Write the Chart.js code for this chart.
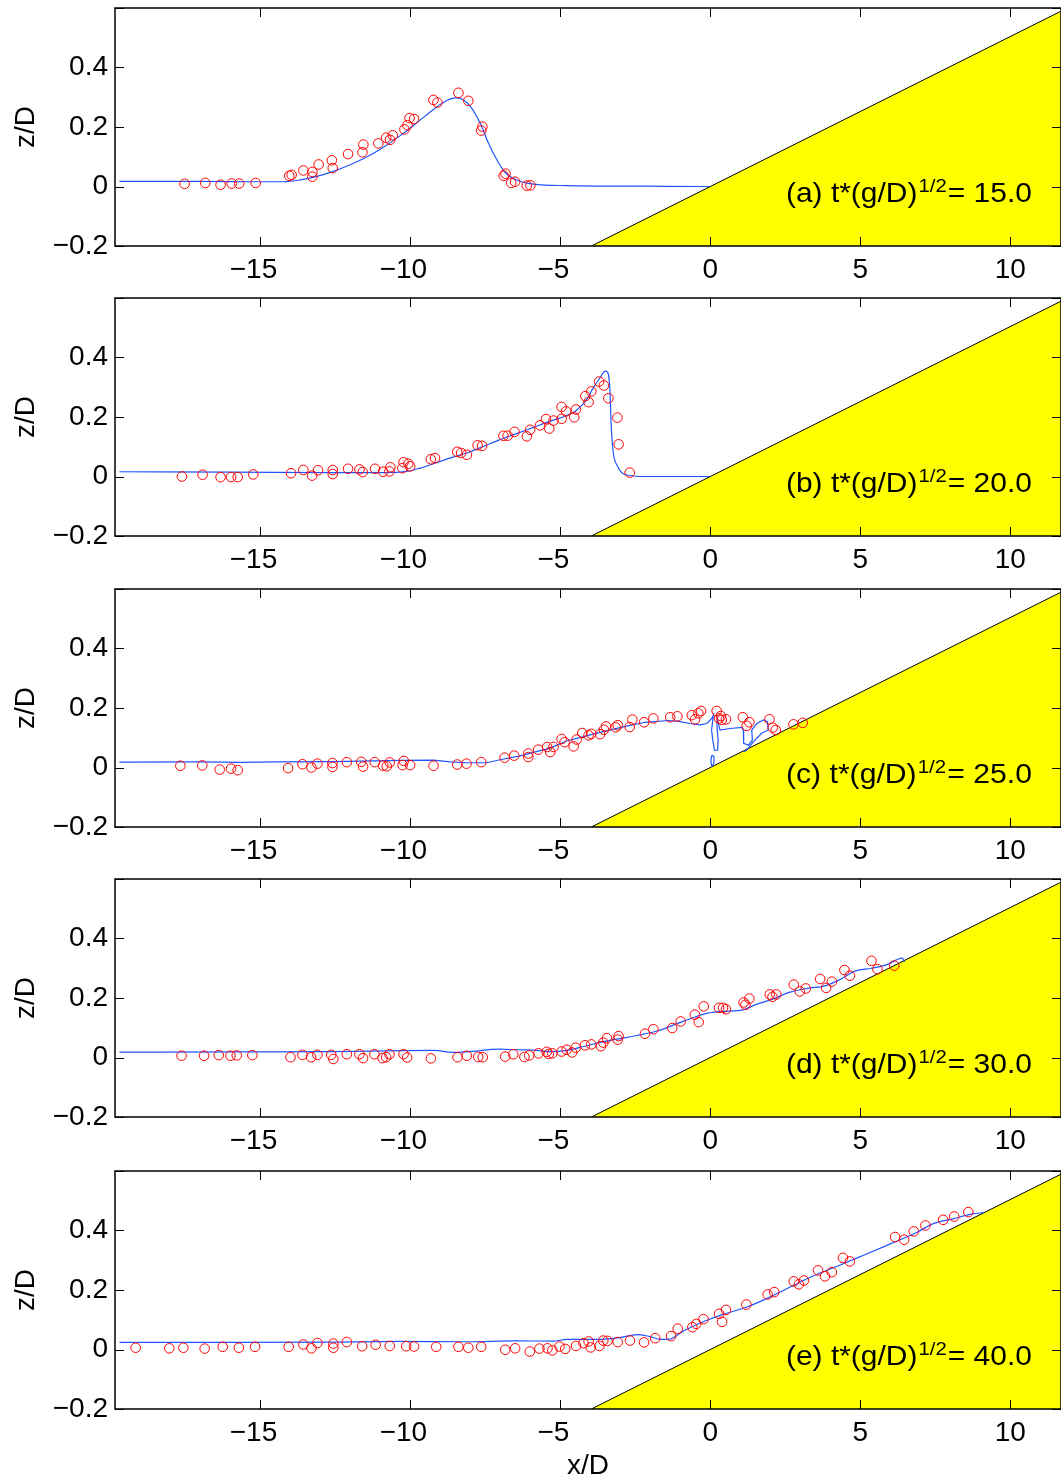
<!DOCTYPE html>
<html>
<head>
<meta charset="utf-8">
<title>Runup snapshots</title>
<script src="https://cdn.jsdelivr.net/npm/chart.js@4.4.1/dist/chart.umd.min.js"></script>
<style>
  html, body { margin: 0; padding: 0; background: #fff; }
  #wrap { position: relative; width: 1061px; height: 1477px; overflow: hidden; }
  #wrap canvas { position: absolute; left: 0; }
</style>
</head>
<body>
<div id="wrap"></div>
<script>
// axis ticks (negative labels sit a little left of their tick in the original)
const xTickVals = [-15, -10, -5, 0, 5, 10];
const xTickLabels = ['\u221215\u2002', '\u221210\u2002', '\u22125\u2002', '0', '5', '10'];
const yTickVals = [-0.2, 0, 0.2, 0.4];
const yTickLabels = ['\u22120.2', '0', '0.2', '0.4'];

// sloping beach (1:19.85)
const beachX = [-3.97, 12.0];
const beachZ = [-0.2, 0.605];

// panel labels
const panelTags = ['(a)', '(b)', '(c)', '(d)', '(e)'];
const panelTimes = ['15.0', '20.0', '25.0', '30.0', '40.0'];

// (a) t = 15
const aObsX = [-17.53, -16.84, -16.33, -15.96, -15.71, -15.16, -14.04, -13.96, -13.57, -13.27, -13.27, -13.06, -12.62, -12.59,
  -12.08, -11.60, -11.57, -11.07, -10.81, -10.68, -10.59, -10.20, -10.10, -10.03, -9.88, -9.23, -9.10, -8.40, -8.07,
  -7.60, -7.64, -6.89, -6.83, -6.64, -6.51, -6.12, -6.00];
const aObsZ = [0.009, 0.012, 0.006, 0.010, 0.010, 0.012, 0.036, 0.039, 0.054, 0.049, 0.033, 0.074, 0.088, 0.062,
  0.109, 0.115, 0.141, 0.145, 0.164, 0.157, 0.172, 0.192, 0.206, 0.230, 0.227, 0.291, 0.282, 0.315, 0.288,
  0.201, 0.188, 0.036, 0.043, 0.012, 0.016, 0.003, 0.004];
const aSimX = [-19.70, -17.0, -15.12, -14.23, -13.68, -13.12, -12.57, -12.01, -11.46, -10.90, -10.34, -9.79, -9.23,
  -8.79, -8.51, -8.34, -8.01, -7.68, -7.40, -7.12, -6.84, -6.46, -5.90, -4.79, -2.00, 0.00];
const aSimZ = [0.017, 0.017, 0.016, 0.016, 0.022, 0.034, 0.051, 0.073, 0.099, 0.132, 0.171, 0.214, 0.259,
  0.289, 0.298, 0.296, 0.270, 0.214, 0.146, 0.090, 0.047, 0.022, 0.008, 0.003, 0.001, 0.000];

// (b) t = 20
const bObsX = [-17.62, -16.93, -16.33, -15.98, -15.76, -15.24, -13.98, -13.57, -13.28, -13.08, -12.59, -12.59, -12.08,
  -11.70, -11.59, -11.18, -10.91, -10.70, -10.67, -10.27, -10.23, -10.07, -10.01, -9.32, -9.18, -8.44, -8.31, -8.12,
  -7.76, -7.61, -6.90, -6.76, -6.53, -6.12, -6.01, -5.68, -5.48, -5.37, -5.23, -4.96, -4.96, -4.81, -4.54, -4.48,
  -4.17, -4.06, -3.97, -3.71, -3.55, -3.40, -3.10, -3.06, -2.69];
const bObsZ = [0.000, 0.006, -0.002, -0.002, -0.002, 0.007, 0.011, 0.022, 0.003, 0.021, 0.022, 0.008, 0.026,
  0.024, 0.015, 0.026, 0.016, 0.017, 0.031, 0.028, 0.048, 0.043, 0.034, 0.058, 0.062, 0.083, 0.079, 0.073,
  0.105, 0.103, 0.137, 0.137, 0.150, 0.135, 0.157, 0.172, 0.193, 0.161, 0.188, 0.234, 0.194, 0.219, 0.199, 0.225,
  0.270, 0.250, 0.286, 0.319, 0.306, 0.263, 0.198, 0.108, 0.013];
const bSimX = [-19.70, -15.90, -12.57, -10.90, -10.12, -9.68, -9.23, -8.68, -8.12, -7.57, -7.01, -6.46, -5.90, -5.34,
  -4.79, -4.46, -4.12, -3.94, -3.68, -3.51, -3.42, -3.35, -3.31, -3.25, -3.09, -2.83, -2.18, 0.00];
const bSimZ = [0.016, 0.015, 0.013, 0.013, 0.017, 0.028, 0.043, 0.062, 0.079, 0.101, 0.124, 0.144, 0.165, 0.186,
  0.205, 0.223, 0.259, 0.292, 0.332, 0.354, 0.349, 0.292, 0.180, 0.090, 0.034, 0.006, 0.000, 0.000];

// (c) t = 25
const cObsX = [-17.67, -16.94, -16.36, -15.98, -15.76, -14.08, -13.60, -13.30, -13.10, -12.60, -12.60, -12.12, -11.64,
  -11.58, -11.19, -10.91, -10.79, -10.69, -10.22, -10.26, -10.01, -9.23, -8.44, -8.13, -7.64, -6.86, -6.54, -6.07,
  -6.07, -5.74, -5.44, -5.34, -5.23, -4.96, -4.86, -4.56, -4.46, -4.27, -4.06, -3.97, -3.68, -3.55, -3.48, -3.16,
  -3.09, -2.69, -2.60, -2.21, -1.90, -1.34, -1.10, -0.62, -0.51, -0.40, -0.31, 0.21, 0.29, 0.35, 0.38, 0.52,
  1.08, 1.21, 1.30, 1.97, 2.08, 2.18, 2.77, 3.08];
const cObsZ = [0.006, 0.007, -0.007, -0.004, -0.009, -0.002, 0.011, 0.000, 0.013, 0.015, 0.002, 0.018, 0.019,
  0.003, 0.018, 0.006, 0.004, 0.017, 0.022, 0.008, 0.008, 0.006, 0.010, 0.013, 0.018, 0.033, 0.040, 0.047,
  0.035, 0.060, 0.069, 0.052, 0.069, 0.096, 0.085, 0.071, 0.094, 0.116, 0.108, 0.113, 0.112, 0.127, 0.138, 0.135,
  0.142, 0.136, 0.161, 0.152, 0.165, 0.169, 0.172, 0.176, 0.162, 0.182, 0.190, 0.190, 0.165, 0.173, 0.160, 0.162,
  0.169, 0.140, 0.152, 0.162, 0.134, 0.126, 0.145, 0.150];
// overturning surface, traced in order
const cSimX = [-19.70, -17.00, -15.67, -14.56, -12.57, -10.34, -9.23, -8.68, -8.12, -7.46, -7.01, -6.34, -5.90, -5.34,
  -4.79, -4.23, -3.68, -2.83, -2.18, -1.40, -1.01, -0.68, -0.34, -0.12, 0.05, 0.10, 0.07, 0.04, 0.08, 0.14, 0.24,
  0.26, 0.22, 0.23, 0.32, 0.66, 1.05, 1.10, 1.11, 1.27, 1.40, 1.38, 1.55, 1.77, 1.90, 1.93, 1.71, 1.43, 1.21, 1.10];
const cSimZ = [0.018, 0.019, 0.017, 0.019, 0.020, 0.024, 0.025, 0.019, 0.016, 0.016, 0.026, 0.039, 0.051, 0.065,
  0.089, 0.104, 0.118, 0.138, 0.152, 0.158, 0.154, 0.148, 0.143, 0.148, 0.165, 0.176, 0.150, 0.126, 0.092, 0.058, 0.058,
  0.092, 0.137, 0.165, 0.126, 0.131, 0.135, 0.126, 0.081, 0.075, 0.092, 0.126, 0.148, 0.160, 0.154, 0.126, 0.115,
  0.086, 0.058, 0.053];
// detached droplet near the shoreline
const cDropX = [0.05, 0.02, 0.05, 0.11, 0.12, 0.08, 0.05];
const cDropZ = [0.004, 0.020, 0.040, 0.038, 0.020, 0.006, 0.004];

// (d) t = 30
const dObsX = [-17.63, -16.88, -16.39, -16.00, -15.79, -15.27, -14.00, -13.60, -13.31, -13.10, -12.64, -12.57, -12.12,
  -11.70, -11.58, -11.20, -10.93, -10.81, -10.70, -10.23, -10.11, -9.32, -8.43, -8.12, -7.74, -7.59, -6.84, -6.57,
  -6.20, -6.04, -5.73, -5.46, -5.39, -5.27, -4.96, -4.79, -4.61, -4.49, -4.18, -3.97, -3.65, -3.57, -3.45, -3.06,
  -3.09, -2.18, -1.90, -1.27, -0.99, -0.52, -0.39, -0.22, 0.29, 0.42, 0.52, 1.11, 1.17, 1.30, 1.98, 2.07, 2.20,
  2.78, 2.98, 3.18, 3.66, 3.86, 4.05, 4.47, 4.65, 5.37, 5.57, 6.13];
const dObsZ = [0.006, 0.006, 0.008, 0.006, 0.007, 0.008, 0.001, 0.009, 0.001, 0.009, 0.009, -0.005, 0.011,
  0.011, -0.002, 0.011, -0.002, 0.001, 0.011, 0.011, 0.000, -0.003, 0.001, 0.006, 0.002, 0.001, 0.003, 0.011,
  0.002, 0.007, 0.014, 0.019, 0.012, 0.014, 0.020, 0.026, 0.017, 0.033, 0.041, 0.044, 0.038, 0.050, 0.065, 0.072,
  0.060, 0.080, 0.095, 0.099, 0.121, 0.144, 0.119, 0.172, 0.167, 0.167, 0.162, 0.185, 0.177, 0.198, 0.212, 0.204, 0.212,
  0.245, 0.222, 0.232, 0.264, 0.234, 0.255, 0.294, 0.275, 0.325, 0.297, 0.309];
const dSimX = [-19.70, -15.90, -12.57, -10.34, -9.23, -8.57, -8.12, -7.01, -6.46, -5.90, -5.34, -4.79, -4.23, -3.47,
  -2.82, -1.78, -0.87, -0.09, 0.42, 1.08, 1.47, 2.12, 2.63, 3.28, 3.80, 4.32, 4.84, 5.36, 5.88, 6.27, 6.40, 6.47];
const dSimZ = [0.018, 0.019, 0.020, 0.023, 0.024, 0.017, 0.019, 0.028, 0.026, 0.025, 0.020, 0.024, 0.037, 0.055,
  0.067, 0.089, 0.123, 0.149, 0.155, 0.160, 0.176, 0.198, 0.219, 0.233, 0.240, 0.262, 0.291, 0.300, 0.312, 0.331, 0.334, 0.322];

// (e) t = 40
const eObsX = [-19.16, -18.04, -17.57, -16.86, -16.26, -15.72, -15.18, -14.06, -13.57, -13.30, -13.10, -12.57, -12.57,
  -12.12, -11.61, -11.16, -10.69, -10.14, -9.88, -9.14, -8.40, -8.07, -7.64, -6.84, -6.51, -6.02, -5.70, -5.43,
  -5.27, -5.03, -4.84, -4.48, -4.23, -4.06, -3.99, -3.70, -3.57, -3.43, -3.09, -2.68, -2.21, -1.84, -1.31, -1.09,
  -0.60, -0.47, -0.23, 0.29, 0.39, 0.52, 1.20, 1.91, 2.13, 2.78, 2.95, 3.12, 3.59, 3.82, 4.05, 4.42, 4.65,
  6.16, 6.46, 6.78, 7.17, 7.76, 8.13, 8.60];
const eObsZ = [0.006, 0.004, 0.006, 0.003, 0.009, 0.006, 0.009, 0.009, 0.017, 0.004, 0.022, 0.020, 0.006,
  0.025, 0.011, 0.016, 0.012, 0.011, 0.010, 0.009, 0.009, 0.006, 0.009, -0.001, 0.004, -0.007, 0.003, 0.004,
  -0.003, 0.010, 0.002, 0.012, 0.021, 0.027, 0.007, 0.012, 0.030, 0.029, 0.025, 0.030, 0.024, 0.038, 0.045, 0.070,
  0.075, 0.086, 0.102, 0.120, 0.093, 0.133, 0.151, 0.185, 0.193, 0.229, 0.219, 0.232, 0.266, 0.246, 0.260, 0.308, 0.296,
  0.378, 0.369, 0.397, 0.417, 0.436, 0.447, 0.462];
const eSimX = [-19.70, -15.90, -12.57, -10.34, -8.12, -6.46, -5.23, -4.79, -3.74, -3.09, -2.43, -2.04, -1.65, -1.40,
  -0.87, -0.22, 0.42, 1.20, 1.98, 2.76, 3.40, 4.31, 5.09, 6.00, 6.91, 7.43, 8.08, 8.73, 9.12];
const eSimZ = [0.024, 0.024, 0.025, 0.027, 0.026, 0.029, 0.028, 0.034, 0.034, 0.039, 0.050, 0.044, 0.034, 0.034,
  0.064, 0.094, 0.118, 0.142, 0.176, 0.215, 0.246, 0.283, 0.316, 0.355, 0.395, 0.423, 0.439, 0.456, 0.460];

const FONT = '"Liberation Sans", Arial, Helvetica, sans-serif';
const panelTops = [0, 290, 581, 871, 1163];
const panelHeights = [290, 290, 290, 290, 314];

function pts(xs, zs) {
  return xs.map((x, i) => ({x: x, y: zs[i]}));
}

// box with inward ticks on all four sides, plus the time label
const framePlugin = {
  id: 'frame',
  afterDraw(chart, args, opts) {
    const ctx = chart.ctx;
    const {left, right, top, bottom} = chart.chartArea;
    const xs = chart.scales.x, ys = chart.scales.y;
    const tl = 9;
    ctx.save();
    ctx.strokeStyle = '#000';
    ctx.lineWidth = 1;
    ctx.beginPath();
    xTickVals.forEach(v => {
      const px = Math.round(xs.getPixelForValue(v)) + 0.5;
      ctx.moveTo(px, bottom); ctx.lineTo(px, bottom - tl);
      ctx.moveTo(px, top); ctx.lineTo(px, top + tl);
    });
    yTickVals.concat([0.6]).forEach(v => {
      const py = Math.round(ys.getPixelForValue(v)) + 0.5;
      ctx.moveTo(left, py); ctx.lineTo(left + tl, py);
      ctx.moveTo(right, py); ctx.lineTo(right - tl, py);
    });
    ctx.stroke();
    ctx.lineWidth = 1.5;
    ctx.strokeRect(left, top, right - left, bottom - top);

    // label "(a) t*(g/D)^1/2= 15.0", stretched to the span it covers in the original
    const fx = xs.getPixelForValue(2.52);
    const fxEnd = xs.getPixelForValue(10.72);
    const fy = ys.getPixelForValue(-0.052);
    const s1 = opts.tag + ' t*(g/D)';
    const s2 = '= ' + opts.time;
    ctx.font = '28px ' + FONT;
    const w1 = ctx.measureText(s1).width;
    const w3 = ctx.measureText(s2).width;
    ctx.font = '19px ' + FONT;
    const w2 = ctx.measureText('1/2').width;
    const sx = (fxEnd - fx) / (w1 + w2 + w3 + 2);
    ctx.translate(fx, fy);
    ctx.scale(sx, 1);
    ctx.fillStyle = '#000';
    ctx.textAlign = 'left';
    ctx.textBaseline = 'alphabetic';
    ctx.font = '28px ' + FONT;
    ctx.fillText(s1, 0, 0);
    ctx.font = '19px ' + FONT;
    ctx.fillText('1/2', w1 + 1, -10);
    ctx.font = '28px ' + FONT;
    ctx.fillText(s2, w1 + w2 + 2, 0);
    ctx.restore();
  }
};

function makePanel(i, obsX, obsZ, simX, simZ, extra) {
  const canvas = document.createElement('canvas');
  canvas.width = 1061;
  canvas.height = panelHeights[i];
  canvas.style.top = panelTops[i] + 'px';
  document.getElementById('wrap').appendChild(canvas);
  const last = i === 4;
  const overturning = i === 2;

  const datasets = [
    {
      label: 'Experiment',
      data: pts(obsX, obsZ),
      pointStyle: 'circle',
      pointRadius: 4.8,
      pointBorderWidth: 1,
      pointBorderColor: '#ff0000',
      pointBackgroundColor: 'rgba(0,0,0,0)',
      showLine: false,
      order: 1
    },
    {
      type: 'line',
      label: 'Simulation',
      data: pts(simX, simZ),
      borderColor: '#1f55ff',
      borderWidth: 1.2,
      pointRadius: 0,
      fill: false,
      tension: 0,
      cubicInterpolationMode: overturning ? 'default' : 'monotone',
      order: 2
    },
    {
      type: 'line',
      label: 'Beach',
      data: pts(beachX, beachZ),
      borderColor: '#000',
      borderWidth: 1,
      backgroundColor: '#ffff00',
      pointRadius: 0,
      fill: 'start',
      order: 3
    }
  ];
  if (extra) {
    datasets.push({
      type: 'line',
      label: 'Droplet',
      data: pts(extra[0], extra[1]),
      borderColor: '#1f55ff',
      borderWidth: 1.2,
      pointRadius: 0,
      fill: false,
      tension: 0.3,
      order: 2
    });
  }

  new Chart(canvas, {
    type: 'scatter',
    data: {datasets: datasets},
    options: {
      responsive: false,
      animation: false,
      devicePixelRatio: 1,
      layout: {autoPadding: false, padding: {top: 8, left: 0, right: 0, bottom: 0}},
      plugins: {
        legend: {display: false},
        tooltip: {enabled: false},
        frame: {tag: panelTags[i], time: panelTimes[i]}
      },
      scales: {
        x: {
          type: 'linear',
          min: -19.85,
          max: 11.69,
          grid: {display: false, drawTicks: false},
          border: {display: false},
          afterBuildTicks: s => { s.ticks = xTickVals.map(v => ({value: v})); },
          afterFit: s => {
            s.height = panelHeights[i] - 8 - 238;
            s.paddingLeft = 0; s.paddingRight = 0;
          },
          ticks: {
            color: '#000',
            padding: 7,
            maxRotation: 0,
            font: {family: FONT, size: 28},
            callback: (v, idx) => xTickLabels[idx]
          },
          title: {
            display: last,
            text: 'x/D',
            color: '#000',
            font: {family: FONT, size: 28, lineHeight: 0.8},
            padding: 0
          }
        },
        y: {
          type: 'linear',
          min: -0.2,
          max: 0.6,
          grid: {display: false, drawTicks: false},
          border: {display: false},
          afterBuildTicks: s => { s.ticks = yTickVals.map(v => ({value: v})); },
          afterFit: s => {
            s.width = 115;
            s.paddingTop = 0; s.paddingBottom = 0;
          },
          ticks: {
            color: '#000',
            padding: 7,
            font: {family: FONT, size: 28},
            callback: (v, idx) => yTickLabels[idx]
          },
          title: {
            display: true,
            text: 'z/D',
            color: '#000',
            font: {family: FONT, size: 28},
            padding: {top: 9, bottom: 0}
          }
        }
      }
    },
    plugins: [framePlugin]
  });
}

makePanel(0, aObsX, aObsZ, aSimX, aSimZ);
makePanel(1, bObsX, bObsZ, bSimX, bSimZ);
makePanel(2, cObsX, cObsZ, cSimX, cSimZ, [cDropX, cDropZ]);
makePanel(3, dObsX, dObsZ, dSimX, dSimZ);
makePanel(4, eObsX, eObsZ, eSimX, eSimZ);
</script>
</body>
</html>
